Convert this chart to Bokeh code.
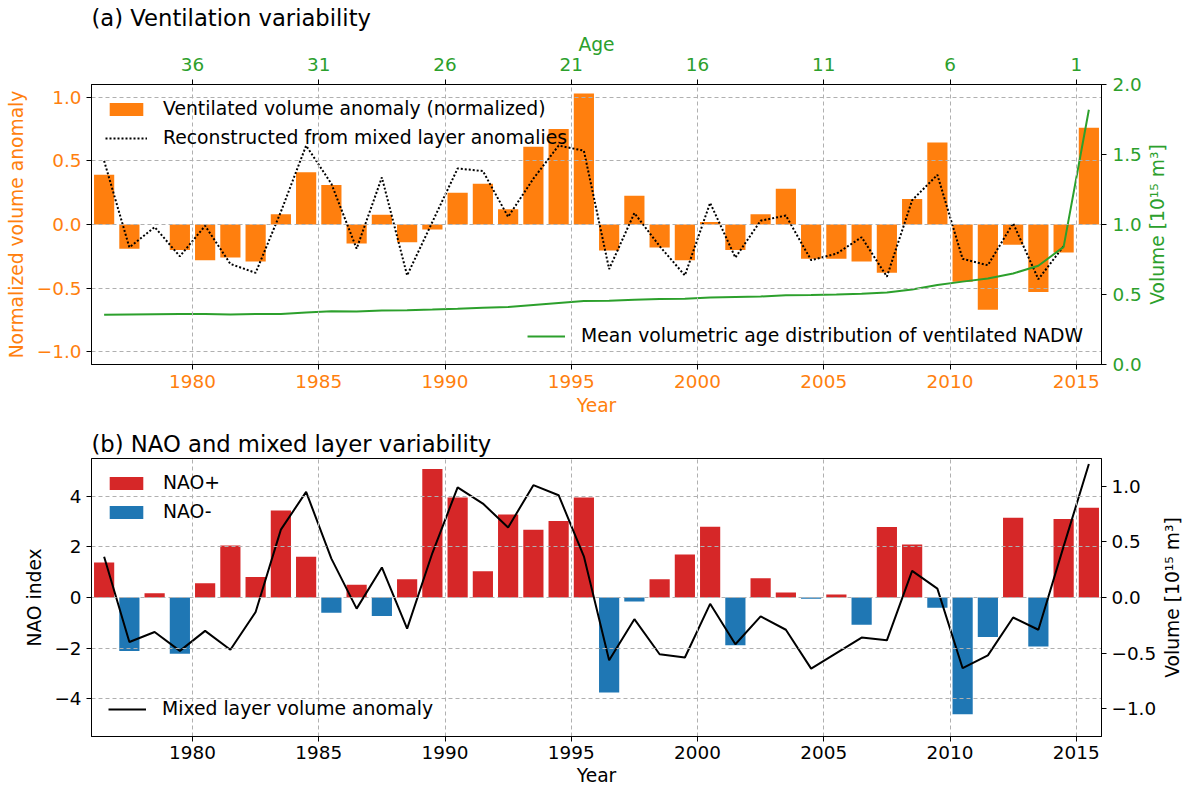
import math
from bokeh.plotting import figure
from bokeh.models import (Range1d, LinearAxis, FixedTicker, CustomJSTickFormatter,
                          Legend, LegendItem)
from bokeh.core.properties import value
from bokeh.layouts import column, row
from bokeh.embed import file_html
from bokeh.resources import INLINE

# ---------------- data ----------------
years = list(range(1976, 2016))          # bar for each year, drawn at mid-year
vent_anom = [0.39, -0.19, 0.0, -0.20, -0.28, -0.26, -0.29, 0.08, 0.41, 0.31,
             -0.15, 0.076, -0.14, -0.04, 0.25, 0.32, 0.12, 0.61, 0.75, 1.03,
             -0.205, 0.226, -0.18, -0.28, 0.02, -0.20, 0.08, 0.28, -0.27, -0.27,
             -0.29, -0.38, 0.20, 0.645, -0.45, -0.67, -0.16, -0.53, -0.22, 0.76]
recon_years = list(range(1976, 2015))
recon = [0.50, -0.18, -0.02, -0.25, -0.01, -0.31, -0.38, 0.10, 0.62, 0.32,
         -0.19, 0.37, -0.40, 0.02, 0.44, 0.42, 0.06, 0.36, 0.62, 0.58,
         -0.35, 0.09, -0.17, -0.40, 0.17, -0.26, 0.03, 0.07, -0.28, -0.23,
         -0.10, -0.41, 0.19, 0.39, -0.27, -0.32, 0.01, -0.43, -0.17]
mean_vol = [0.355, 0.357, 0.359, 0.36, 0.36, 0.358, 0.36, 0.36, 0.372, 0.38,
            0.378, 0.386, 0.388, 0.392, 0.398, 0.405, 0.41, 0.425, 0.44, 0.453,
            0.455, 0.462, 0.468, 0.47, 0.478, 0.482, 0.486, 0.495, 0.497, 0.50,
            0.505, 0.515, 0.535, 0.568, 0.592, 0.615, 0.65, 0.705, 0.84, 1.82]
nao = [1.38, -2.12, 0.17, -2.23, 0.56, 2.06, 0.81, 3.44, 1.61, -0.60,
       0.50, -0.73, 0.72, 5.08, 3.96, 1.04, 3.28, 2.68, 3.03, 3.96,
       -3.76, -0.16, 0.72, 1.70, 2.80, -1.89, 0.76, 0.20, -0.05, 0.12,
       -1.08, 2.79, 2.10, -0.41, -4.62, -1.56, 3.16, -1.94, 3.11, 3.55]
mixed = [0.367, -0.40, -0.31, -0.48, -0.30, -0.47, -0.13, 0.61, 0.95, 0.35,
         -0.10, 0.27, -0.28, 0.40, 0.99, 0.845, 0.63, 1.01, 0.92, 0.37,
         -0.565, -0.195, -0.51, -0.54, -0.057, -0.42, -0.17, -0.29, -0.64, -0.50,
         -0.36, -0.385, 0.24, 0.08, -0.636, -0.52, -0.18, -0.29, 0.46, 1.20]
year_ticks = [1980, 1985, 1990, 1995, 2000, 2005, 2010, 2015]
age_ticks = [36, 31, 26, 21, 16, 11, 6, 1]
ref_year = 2016
top_left_ticks = [-1.0, -0.5, 0.0, 0.5, 1.0]
top_right_ticks = [0.0, 0.5, 1.0, 1.5, 2.0]
nao_ticks = [-4, -2, 0, 2, 4]
bot_right_ticks = [-1.0, -0.5, 0.0, 0.5, 1.0]
vol_label = "Volume [10\u00b9\u2075 m\u00b3]"

ORANGE = "#ff7f0e"
GREEN = "#2ca02c"
RED = "#d62728"
BLUE = "#1f77b4"
FONT = "DejaVu Sans"
TICK_FS = "18.4px"
LABEL_FS = "18.7px"
LEG_FS = "18.8px"
TITLE_FS = "22.7px"

X0, X1 = 1976, 2016
xc = [y + 0.5 for y in years]
xr = [y + 0.5 for y in recon_years]

fmt1 = CustomJSTickFormatter(code="return (tick < 0 ? '\u2212' : '') + Math.abs(tick).toFixed(1);")
fmt0 = CustomJSTickFormatter(code="return (tick < 0 ? '\u2212' : '') + Math.abs(tick).toFixed(0);")

ML = 91            # left border (frame starts here)
FRAME_RIGHT = 1102  # page x of the frame's right edge
SIDE_W = 26        # strip that carries the rotated right-hand axis title
W1 = 1144          # panel (a) width -> label centre ~1157
W2 = 1159          # panel (b) width -> label centre ~1172
H1, H2 = 418, 370
T1, B1 = 84, 54
T2, B2 = 40, 51


def style_axis(ax, color="black", label_std=2, tick_std=3):
    ax.axis_line_color = "black"
    ax.major_tick_line_color = "black"
    ax.major_tick_out = 5
    ax.major_tick_in = 0
    ax.minor_tick_out = 0
    ax.minor_tick_in = 0
    ax.major_label_standoff = tick_std
    ax.axis_label_standoff = label_std
    ax.major_label_text_font = FONT
    ax.major_label_text_font_size = TICK_FS
    ax.major_label_text_color = color
    ax.axis_label_text_font = FONT
    ax.axis_label_text_font_size = LABEL_FS
    ax.axis_label_text_font_style = "normal"
    ax.axis_label_text_color = color


def style_grid(p):
    for g in (p.xgrid, p.ygrid):
        g.grid_line_color = "#b0b0b0"
        g.grid_line_dash = "4 3"
        g.grid_line_width = 1
        g.level = "glyph"


def style_legend(lg, loc, gw, margin, padding, standoff, spacing=7):
    lg.location = loc
    lg.label_text_font = FONT
    lg.label_text_font_size = LEG_FS
    lg.label_text_color = "black"
    lg.glyph_width = gw
    lg.glyph_height = 16
    lg.label_standoff = standoff
    lg.spacing = spacing
    lg.margin = margin
    lg.padding = padding
    lg.background_fill_alpha = 0
    lg.border_line_alpha = 0


def style_title(p, text, standoff):
    p.title.text = text
    p.title.text_font = FONT
    p.title.text_font_size = TITLE_FS
    p.title.text_font_style = "normal"
    p.title.text_color = "black"
    p.title.align = "left"
    p.title.standoff = standoff


def side_strip(height, top, bottom, text, color):
    s = figure(width=SIDE_W, height=height, x_range=Range1d(0, 1), y_range=Range1d(0, 1),
               output_backend="svg", toolbar_location=None,
               x_axis_location=None, y_axis_location=None,
               min_border_left=0, min_border_right=0,
               min_border_top=top, min_border_bottom=bottom)
    s.outline_line_color = None
    s.grid.visible = False
    s.text(x=[0.5], y=[0.5], text=[text], angle=math.pi / 2,
           text_align="center", text_baseline="middle",
           text_font=value(FONT), text_font_size=value(LABEL_FS), text_color=color)
    return s


# ---------------- panel (a) ----------------
p1 = figure(width=W1, height=H1, x_range=Range1d(X0, X1),
            y_range=Range1d(-1.1, 1.1), output_backend="svg", toolbar_location=None,
            min_border_left=ML, min_border_right=W1 - FRAME_RIGHT, min_border_top=T1,
            min_border_bottom=B1)
p1.extra_y_ranges = {"vol": Range1d(0, 2.0)}
p1.extra_x_ranges = {"age": Range1d(ref_year - X0, ref_year - X1)}
p1.outline_line_color = "black"
style_title(p1, "(a) Ventilation variability", 0)

p1.xaxis.ticker = FixedTicker(ticks=year_ticks)
p1.xaxis.axis_label = "Year"
style_axis(p1.xaxis[0], ORANGE, 4, 5)
p1.yaxis.ticker = FixedTicker(ticks=top_left_ticks)
p1.yaxis.formatter = fmt1
p1.yaxis.axis_label = "Normalized volume anomaly"
style_axis(p1.yaxis[0], ORANGE, 7, 5)

ax_r1 = LinearAxis(y_range_name="vol", ticker=FixedTicker(ticks=top_right_ticks),
                   formatter=fmt1)
style_axis(ax_r1, GREEN, 0, 6)
p1.add_layout(ax_r1, "right")

ax_t1 = LinearAxis(x_range_name="age", ticker=FixedTicker(ticks=age_ticks),
                   axis_label="Age")
style_axis(ax_t1, GREEN, 0, 9)
p1.add_layout(ax_t1, "above")
style_grid(p1)

bars1 = p1.vbar(x=xc, top=vent_anom, bottom=0, width=0.8, fill_color=ORANGE,
                line_color=None, level="underlay")
dots1 = p1.line(xr, recon, line_color="black", line_width=2, line_dash="2 2")
green1 = p1.line(xc, mean_vol, line_color=GREEN, line_width=2, y_range_name="vol")

lg1 = Legend(items=[LegendItem(label="Ventilated volume anomaly (normalized)", renderers=[bars1]),
                    LegendItem(label="Reconstructed from mixed layer anomalies", renderers=[dots1])])
style_legend(lg1, "top_left", 42, 4, 10, 16, 8)
p1.add_layout(lg1)
lg2 = Legend(items=[LegendItem(label="Mean volumetric age distribution of ventilated NADW",
                               renderers=[green1])])
style_legend(lg2, "bottom_right", 38, 8, 10, 16)
p1.add_layout(lg2)

s1 = side_strip(H1, T1, B1, vol_label, GREEN)

# ---------------- panel (b) ----------------
p2 = figure(width=W2, height=H2, x_range=Range1d(X0, X1),
            y_range=Range1d(-5.5, 5.5), output_backend="svg", toolbar_location=None,
            min_border_left=ML, min_border_right=W2 - FRAME_RIGHT, min_border_top=T2,
            min_border_bottom=B2)
p2.extra_y_ranges = {"vol2": Range1d(-1.25, 1.25)}
p2.outline_line_color = "black"
style_title(p2, "(b) NAO and mixed layer variability", 3)

p2.xaxis.ticker = FixedTicker(ticks=year_ticks)
p2.xaxis.axis_label = "Year"
style_axis(p2.xaxis[0], "black", 3, 4)
p2.yaxis.ticker = FixedTicker(ticks=nao_ticks)
p2.yaxis.formatter = fmt0
p2.yaxis.axis_label = "NAO index"
style_axis(p2.yaxis[0], "black", 6, 5)
ax_r2 = LinearAxis(y_range_name="vol2", ticker=FixedTicker(ticks=bot_right_ticks),
                   formatter=fmt1)
style_axis(ax_r2, "black", 0, 5)
p2.add_layout(ax_r2, "right")
style_grid(p2)

pos_x = [x for x, v in zip(xc, nao) if v >= 0]
pos_v = [v for v in nao if v >= 0]
neg_x = [x for x, v in zip(xc, nao) if v < 0]
neg_v = [v for v in nao if v < 0]
bpos = p2.vbar(x=pos_x, top=pos_v, bottom=0, width=0.8, fill_color=RED,
               line_color=None, level="underlay")
bneg = p2.vbar(x=neg_x, top=neg_v, bottom=0, width=0.8, fill_color=BLUE,
               line_color=None, level="underlay")
mline = p2.line(xc, mixed, line_color="black", line_width=2, y_range_name="vol2")

lg3 = Legend(items=[LegendItem(label="NAO+", renderers=[bpos]),
                    LegendItem(label="NAO-", renderers=[bneg])])
style_legend(lg3, "top_left", 42, 4, 10, 16, 8)
p2.add_layout(lg3)
lg4 = Legend(items=[LegendItem(label="Mixed layer volume anomaly", renderers=[mline])])
style_legend(lg4, "bottom_left", 38, 7, 10, 16)
p2.add_layout(lg4)

s2 = side_strip(H2, T2, B2, vol_label, "black")

layout = column(row(p1, s1, spacing=0), row(p2, s2, spacing=0), spacing=0)
open("out.html", "w").write(file_html(layout, INLINE))
